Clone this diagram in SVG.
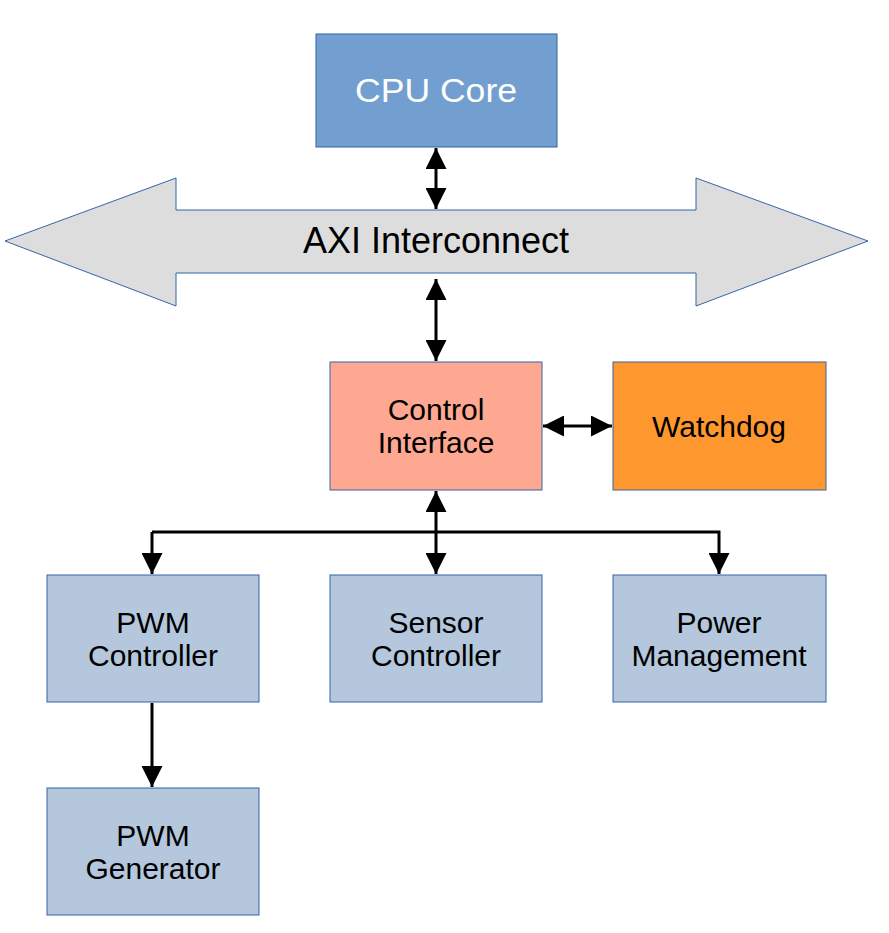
<svg xmlns="http://www.w3.org/2000/svg" width="889" height="933" viewBox="0 0 889 933">
<style>
text{font-family:"Liberation Sans",Arial,sans-serif;text-anchor:middle;fill:#000}
.box{stroke:#3465a4;stroke-width:1}
.blue{fill:#b4c7dc}
.t{font-size:30px}
.conn line,.conn polyline{stroke:#000;stroke-width:3;fill:none}
</style>
<defs>
<marker id="ah" viewBox="0 0 10 10" refX="10" refY="5" markerWidth="7" markerHeight="7" markerUnits="strokeWidth" orient="auto-start-reverse">
<path d="M0,0 L10,5 L0,10 Z" fill="#000"/>
</marker>
</defs>
<rect width="889" height="933" fill="#fff"/>
<g id="axi">
<polygon points="5,241 176,178 176,210 696,210 696,178 868,241 696,306 696,273 176,273 176,306" fill="#dddddd" stroke="#3465a4" stroke-width="1"/>
<text x="436" y="253" style="font-size:36px">AXI Interconnect</text>
</g>
<g id="cpu">
<rect class="box" x="316" y="34" width="241" height="113" fill="#729fcf"/>
<text x="436" y="102" style="font-size:33px;fill:#fff" textLength="162" lengthAdjust="spacingAndGlyphs">CPU Core</text>
</g>
<g id="control">
<rect class="box" x="330" y="362" width="212" height="128" fill="#ffa891"/>
<text class="t" x="436" y="420">Control</text>
<text class="t" x="436" y="453">Interface</text>
</g>
<g id="watchdog">
<rect class="box" x="613" y="362" width="213" height="128" fill="#ff972f"/>
<text class="t" x="719" y="437">Watchdog</text>
</g>
<g id="pwmctl">
<rect class="box blue" x="47" y="575" width="212" height="127"/>
<text class="t" x="153" y="633">PWM</text>
<text class="t" x="153" y="666">Controller</text>
</g>
<g id="sensor">
<rect class="box blue" x="330" y="575" width="212" height="127"/>
<text class="t" x="436" y="633">Sensor</text>
<text class="t" x="436" y="666">Controller</text>
</g>
<g id="power">
<rect class="box blue" x="613" y="575" width="213" height="127"/>
<text class="t" x="719" y="633">Power</text>
<text class="t" x="719" y="666">Management</text>
</g>
<g id="pwmgen">
<rect class="box blue" x="47" y="788" width="212" height="127"/>
<text class="t" x="153" y="846">PWM</text>
<text class="t" x="153" y="879">Generator</text>
</g>
<g id="connectors" class="conn">
<line x1="436" y1="148" x2="436" y2="209" marker-start="url(#ah)" marker-end="url(#ah)"/>
<line x1="436" y1="279" x2="436" y2="361" marker-start="url(#ah)" marker-end="url(#ah)"/>
<line x1="543" y1="426" x2="612" y2="426" marker-start="url(#ah)" marker-end="url(#ah)"/>
<line x1="436" y1="491" x2="436" y2="574" marker-start="url(#ah)" marker-end="url(#ah)"/>
<polyline points="152,532 719,532 719,574" marker-end="url(#ah)"/>
<line x1="152" y1="532" x2="152" y2="574" marker-end="url(#ah)"/>
<line x1="152" y1="703" x2="152" y2="787" marker-end="url(#ah)"/>
</g>
</svg>
